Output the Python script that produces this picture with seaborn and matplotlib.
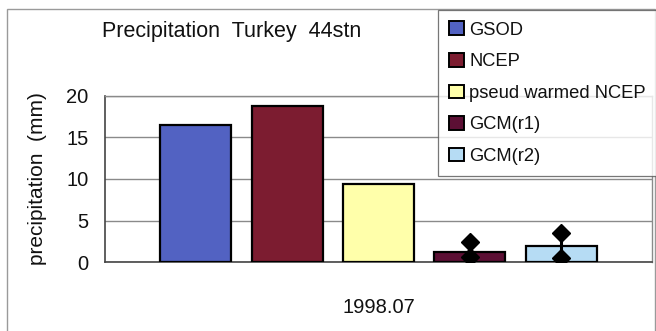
import matplotlib
matplotlib.use("Agg")
import matplotlib.pyplot as plt
from matplotlib.patches import Patch, Rectangle
import seaborn as sns
import pandas as pd

# Monthly precipitation, Turkey (44 stations), July 1998
period = ["1998.07"]
series = ["GSOD", "NCEP", "pseud warmed NCEP", "GCM(r1)", "GCM(r2)"]
precip = [16.5, 18.8, 9.4, 1.2, 1.9]
colors = ["#5262c2", "#7c1c30", "#ffffaa", "#5c0f34", "#b6dcf4"]

# Range of the GCM members (lower / upper diamonds)
gcm_series = ["GCM(r1)", "GCM(r2)"]
gcm_low = [0.6, 0.45]
gcm_high = [2.45, 3.45]

yticks = [0, 5, 10, 15, 20]

sns.set_theme(style="white")
plt.rcParams["font.family"] = ["Liberation Sans", "DejaVu Sans"]

df = pd.DataFrame({"period": period * len(series), "series": series, "precip": precip})

fig = plt.figure(figsize=(6.56, 3.31), dpi=100)
ax = fig.add_axes([105 / 656, 69 / 331, 547 / 656, 166 / 331])

sns.barplot(data=df, x="period", y="precip", hue="series", hue_order=series,
            palette=colors, width=0.836, gap=0.224, edgecolor="black",
            linewidth=1.6, saturation=1, legend=False, ax=ax, zorder=3)

# GCM spread: vertical segment with diamond ends at each bar centre
for name, lo, hi in zip(gcm_series, gcm_low, gcm_high):
    bar = ax.containers[series.index(name)][0]
    cx = bar.get_x() + bar.get_width() / 2
    ax.vlines(cx, lo, hi, color="black", lw=2.2, zorder=4)
    ax.plot([cx, cx], [lo, hi], linestyle="none", marker="D", ms=9.5,
            color="black", zorder=5)

ax.set_xlim(-0.5, 0.5)
ax.set_ylim(0, 20)
ax.set_yticks(yticks)
ax.yaxis.grid(True, color="#8a8a8a", lw=1.0, zorder=0)
ax.set_axisbelow(True)
ax.tick_params(axis="y", length=0, pad=12, labelsize=14.5, labelcolor="#111111")
ax.tick_params(axis="x", length=0, pad=26, labelsize=14.5, labelcolor="#111111")
ax.set_xlabel("")
ax.set_ylabel("precipitation  (mm)", fontsize=15, color="#111111")
ax.yaxis.set_label_coords(-0.106, 0.5)

for side in ["left", "bottom"]:
    ax.spines[side].set_color("#444444")
    ax.spines[side].set_linewidth(1.2)
for side in ["top", "right"]:
    ax.spines[side].set_color("#8a8a8a")
    ax.spines[side].set_linewidth(1.0)

fig.text(232 / 656, 1 - 32 / 331, "Precipitation  Turkey  44stn", fontsize=15.5,
         ha="center", va="center", color="#111111")

handles = [Patch(facecolor=c, edgecolor="black", linewidth=1.4) for c in colors]
leg = fig.legend(handles, series, loc="upper left",
                 bbox_to_anchor=(438 / 656, 1 - 10 / 331), fontsize=13.2,
                 frameon=True, fancybox=False, edgecolor="#555555",
                 handlelength=0.78, handleheight=0.78, handletextpad=0.3,
                 labelspacing=0.78, borderpad=0.62, borderaxespad=0)
leg.get_frame().set_linewidth(0.9)
for t in leg.get_texts():
    t.set_color("#111111")

# Outer chart border
fig.patches.append(Rectangle((6.5 / 656, -0.02), 648.5 / 656, 1.02 - 9 / 331,
                             transform=fig.transFigure, fill=False,
                             edgecolor="#9a9a9a", lw=1.0, zorder=0))

fig.savefig("out.png", dpi=100)
